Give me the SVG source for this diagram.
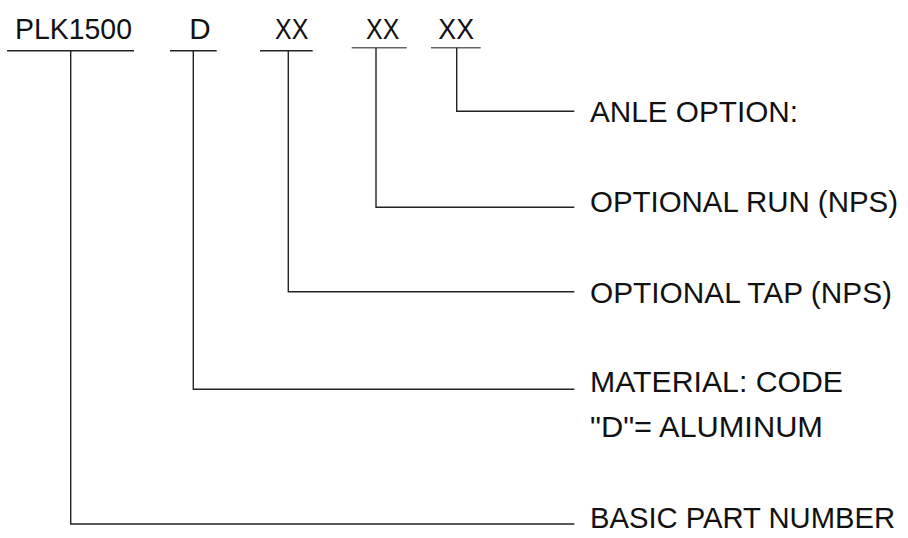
<svg xmlns="http://www.w3.org/2000/svg" width="908" height="538" viewBox="0 0 908 538">
<style>
text{font-family:"Liberation Sans","DejaVu Sans",sans-serif;font-size:30px;fill:#111;}
.ul{stroke:#222;stroke-width:1.4;fill:none;}
.ul2{stroke:#666;stroke-width:1.4;fill:none;}
.con{stroke:#222;stroke-width:1.4;fill:none;}
</style>
<rect width="908" height="538" fill="#fff"/>
<g id="code-plk1500">
<text x="15" y="39.3" textLength="117" lengthAdjust="spacingAndGlyphs">PLK1500</text>
<line class="ul" x1="7" y1="50.7" x2="134" y2="50.7"/>
</g>
<g id="code-d">
<text x="189.3" y="39.3" textLength="21.4" lengthAdjust="spacingAndGlyphs">D</text>
<line class="ul" x1="170" y1="50.7" x2="216.7" y2="50.7"/>
</g>
<g id="code-tap">
<text x="275" y="39.3" textLength="33.3" lengthAdjust="spacingAndGlyphs">XX</text>
<line class="ul" x1="260" y1="50.7" x2="312.7" y2="50.7"/>
</g>
<g id="code-run">
<text x="366" y="39.3" textLength="33.3" lengthAdjust="spacingAndGlyphs">XX</text>
<line class="ul2" x1="351.7" y1="47.7" x2="406.7" y2="47.7"/>
</g>
<g id="code-angle">
<text x="438.3" y="39.3" textLength="35.7" lengthAdjust="spacingAndGlyphs">XX</text>
<line class="ul2" x1="431" y1="47.7" x2="480.7" y2="47.7"/>
</g>
<g id="connectors">
<path class="con" d="M456.7 47.7 V111.3 H574.3"/>
<path class="con" d="M376 47.7 V207.3 H574.3"/>
<path class="con" d="M288.3 50.7 V291.7 H574.3"/>
<path class="con" d="M193.3 50.7 V389.3 H574.3"/>
<path class="con" d="M70.7 50.7 V524 H574.3"/>
</g>
<g id="label-angle">
<text x="590" y="122.3" textLength="208" lengthAdjust="spacingAndGlyphs">ANLE OPTION:</text>
</g>
<g id="label-run">
<text x="590" y="211.7" textLength="308" lengthAdjust="spacingAndGlyphs">OPTIONAL RUN (NPS)</text>
</g>
<g id="label-tap">
<text x="590" y="302.7" textLength="302" lengthAdjust="spacingAndGlyphs">OPTIONAL TAP (NPS)</text>
</g>
<g id="label-material">
<text x="590" y="391.7" textLength="253" lengthAdjust="spacingAndGlyphs">MATERIAL: CODE</text>
<text x="590" y="436.7" textLength="233" lengthAdjust="spacingAndGlyphs">"D"= ALUMINUM</text>
</g>
<g id="label-basic">
<text x="590" y="528.3" textLength="305" lengthAdjust="spacingAndGlyphs">BASIC PART NUMBER</text>
</g>
</svg>
